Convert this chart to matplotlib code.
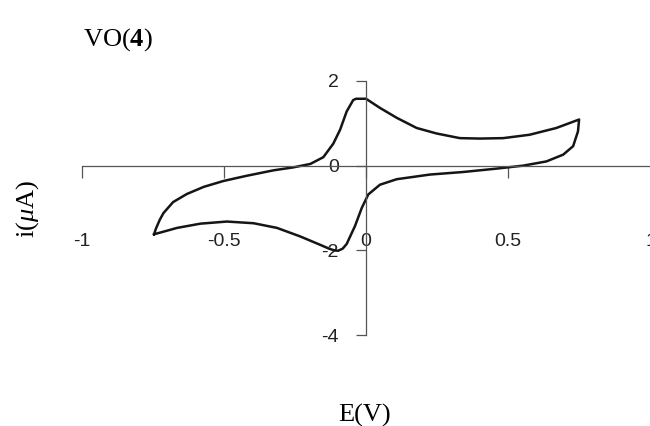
import numpy as np
import matplotlib
matplotlib.use("Agg")
import matplotlib.pyplot as plt

# =========================
# Cyclic voltammogram data
# =========================
# forward sweep: from the negative vertex up to the positive vertex
E_forward = [-0.745, -0.738, -0.725, -0.712, -0.678, -0.630, -0.570, -0.500,
             -0.420, -0.325, -0.255, -0.196, -0.150, -0.115, -0.091, -0.068,
             -0.045, -0.035, 0.000, 0.050, 0.108, 0.178, 0.248, 0.330, 0.400,
             0.482, 0.575, 0.669, 0.749]
I_forward = [-1.62, -1.48, -1.28, -1.12, -0.86, -0.67, -0.50, -0.36,
             -0.24, -0.11, -0.04, 0.04, 0.20, 0.52, 0.85, 1.28,
             1.55, 1.58, 1.58, 1.36, 1.13, 0.89, 0.76, 0.65, 0.64,
             0.65, 0.73, 0.89, 1.09]

# reverse sweep: back from the positive vertex to the negative one
E_reverse = [0.749, 0.745, 0.728, 0.693, 0.634, 0.552, 0.459, 0.341, 0.225,
             0.108, 0.049, 0.008, -0.015, -0.039, -0.068, -0.082, -0.098,
             -0.112, -0.130, -0.161, -0.232, -0.313, -0.395, -0.489, -0.582,
             -0.664, -0.723, -0.745]
I_reverse = [1.09, 0.81, 0.46, 0.26, 0.10, 0.00, -0.07, -0.15, -0.21,
             -0.32, -0.45, -0.68, -1.00, -1.43, -1.85, -1.96, -2.01,
             -2.00, -1.96, -1.87, -1.67, -1.47, -1.36, -1.32, -1.37,
             -1.47, -1.58, -1.62]

x_ticks = [-1, -0.5, 0, 0.5, 1]
x_labels = ["-1", "-0.5", "0", "0.5", "1"]
y_ticks = [-4, -2, 0, 2]
y_labels = ["-4", "-2", "0", "2"]


def main():
    plt.rcParams["mathtext.fontset"] = "custom"
    plt.rcParams["mathtext.rm"] = "Liberation Serif"
    plt.rcParams["mathtext.it"] = "Liberation Serif:italic"
    plt.rcParams["mathtext.bf"] = "Liberation Serif:bold"

    fig = plt.figure(figsize=(6.5, 4.26), dpi=100)
    ax = fig.add_axes([0.1254, 0.2136, 0.8754, 0.5963])

    E = np.concatenate([E_forward, E_reverse])
    I = np.concatenate([I_forward, I_reverse])
    ax.plot(E, I, color="#151515", lw=1.8, solid_joinstyle="round")

    ax.set_xlim(-1, 1)
    ax.set_ylim(-4, 2)

    # =========================
    # Axes crossing at the origin
    # =========================
    for side in ["top", "right"]:
        ax.spines[side].set_visible(False)
    ax.spines["left"].set_position(("data", 0))
    ax.spines["bottom"].set_position(("data", 0))
    for side in ["left", "bottom"]:
        ax.spines[side].set_color("#555555")
        ax.spines[side].set_linewidth(0.9)

    ax.set_xticks(x_ticks)
    ax.set_xticklabels(x_labels)
    ax.set_yticks(y_ticks)
    ax.set_yticklabels(y_labels)

    for lab in ax.get_xticklabels() + ax.get_yticklabels():
        lab.set_fontfamily("Liberation Sans")
        lab.set_fontsize(14)
        lab.set_color("#222222")

    ax.tick_params(axis="x", direction="out", length=8.5, width=0.9,
                   color="#555555", pad=40)
    ax.tick_params(axis="y", direction="out", length=7.5, width=0.9,
                   color="#555555", pad=12)

    # =========================
    # Titles
    # =========================
    fig.text(83 / 650, 0.894, r"VO($\mathbf{4}$)", fontsize=19,
             family="Liberation Serif", ha="left", va="baseline")
    fig.text(0.043, 0.509, r"i($\mu$A)", fontsize=19,
             family="Liberation Serif", rotation=90, ha="center", va="center")
    fig.text(365 / 650, 0.011, "E(V)", fontsize=19,
             family="Liberation Serif", ha="center", va="baseline")

    fig.savefig("out.png", dpi=100)
    plt.close(fig)


if __name__ == "__main__":
    main()
